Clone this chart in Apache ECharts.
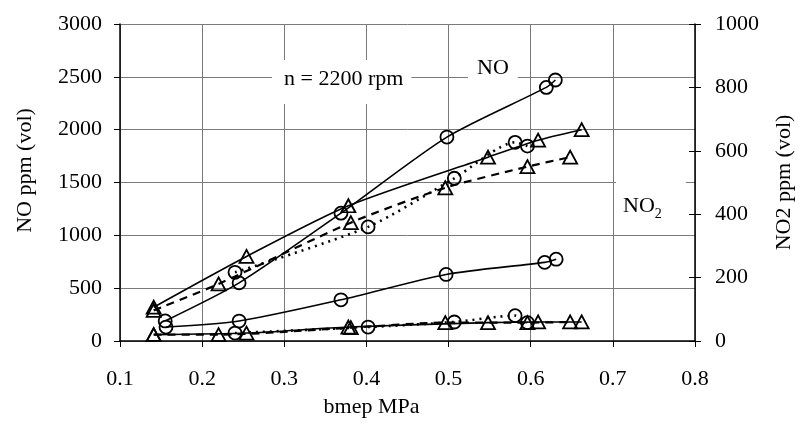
<!DOCTYPE html>
<html>
<head>
<meta charset="utf-8">
<script src="https://cdn.jsdelivr.net/npm/echarts@6/dist/echarts.min.js"></script>
<style>html,body{margin:0;padding:0;background:#fff}#c{width:803px;height:424px}</style>
</head>
<body>
<div id="c"></div>
<script>
// ---- data ----
// NO, left axis (ppm)
var noSolidCircleX = [0.155, 0.245, 0.369, 0.498, 0.619, 0.630];
var noSolidCircle  = [190, 550, 1210, 1930, 2400, 2470];
var noSolidTriX    = [0.141, 0.254, 0.378, 0.548, 0.609, 0.662];
var noSolidTri     = [320, 800, 1280, 1740, 1900, 2000];
var noDashTriX     = [0.141, 0.220, 0.381, 0.496, 0.596, 0.648];
var noDashTri      = [290, 540, 1120, 1450, 1650, 1740];
var noDotCircleX   = [0.240, 0.402, 0.507, 0.581, 0.596];
var noDotCircle    = [650, 1080, 1540, 1880, 1845];
// NO2, right axis (ppm)
var no2SolidCircleX = [0.156, 0.245, 0.369, 0.497, 0.617, 0.631];
var no2SolidCircle  = [44, 63, 130, 210, 248, 258];
var no2SolidTriX    = [0.141, 0.254, 0.378, 0.548, 0.609, 0.662];
var no2SolidTri     = [20, 25, 44, 58, 60, 60];
var no2DashTriX     = [0.141, 0.220, 0.381, 0.496, 0.596, 0.648];
var no2DashTri      = [20, 20, 42, 58, 58, 60];
var no2DotCircleX   = [0.240, 0.402, 0.507, 0.581, 0.596];
var no2DotCircle    = [25, 44, 60, 80, 58];

var xTicks = [0.1, 0.2, 0.3, 0.4, 0.5, 0.6, 0.7, 0.8];
var leftTicks = [0, 500, 1000, 1500, 2000, 2500, 3000];
var rightTicks = [0, 200, 400, 600, 800, 1000];

function pairs(xs, ys) { return xs.map(function (x, i) { return [x, ys[i]]; }); }

var FONT = 'Liberation Serif';
var FS = 22;
var chart = echarts.init(document.getElementById('c'), null, {renderer: 'canvas'});

function mk(name, xs, ys, yAxisIndex, symbol, lineType, width) {
  return {
    name: name, type: 'line', yAxisIndex: yAxisIndex,
    data: pairs(xs, ys),
    smooth: 0.25,
    symbol: symbol,
    symbolSize: symbol === 'triangle' ? [14, 13] : 13,
    showAllSymbol: true,
    lineStyle: {color: '#000', width: width, type: lineType},
    itemStyle: {color: 'rgba(0,0,0,0)', borderColor: '#000', borderWidth: 1.8},
    emphasis: {disabled: true},
    z: 3
  };
}

function plain(v) { return String(v); }

var option = {
  animation: false,
  grid: {left: 120, right: 105, top: 24, bottom: 83},
  xAxis: {
    type: 'value', min: xTicks[0], max: xTicks[xTicks.length - 1], interval: 0.1,
    name: 'bmep MPa', nameLocation: 'middle', nameGap: 55,
    nameTextStyle: {fontFamily: FONT, fontSize: FS, color: '#000', padding: [0, 72, 0, 0]},
    axisLine: {show: true, onZero: false, lineStyle: {color: '#000', width: 1.5}},
    axisTick: {show: true, length: 6, lineStyle: {color: '#000'}},
    axisLabel: {fontFamily: FONT, fontSize: FS, color: '#000', margin: 27,
      formatter: function (v) { return (Math.round(v * 10) / 10).toFixed(1); }},
    splitLine: {show: true, lineStyle: {color: '#7a7a7a', width: 1}}
  },
  yAxis: [
    {
      type: 'value', min: leftTicks[0], max: leftTicks[leftTicks.length - 1], interval: 500,
      position: 'left',
      name: 'NO ppm (vol)', nameLocation: 'middle', nameGap: 84, nameRotate: 90,
      nameTextStyle: {fontFamily: FONT, fontSize: FS, color: '#000', padding: [0, 0, 0, 24]},
      axisLine: {show: true, lineStyle: {color: '#000', width: 1.5}},
      axisTick: {show: true, length: 6, lineStyle: {color: '#000'}},
      axisLabel: {fontFamily: FONT, fontSize: FS, color: '#000', margin: 18, formatter: plain},
      splitLine: {show: true, lineStyle: {color: '#7a7a7a', width: 1}}
    },
    {
      type: 'value', min: rightTicks[0], max: rightTicks[rightTicks.length - 1], interval: 200,
      position: 'right',
      name: 'NO2 ppm (vol)', nameLocation: 'middle', nameGap: 78, nameRotate: 90,
      nameTextStyle: {fontFamily: FONT, fontSize: FS, color: '#000'},
      axisLine: {show: true, lineStyle: {color: '#000', width: 1.5}},
      axisTick: {show: true, length: 6, lineStyle: {color: '#000'}},
      axisLabel: {fontFamily: FONT, fontSize: FS, color: '#000', margin: 20, formatter: plain},
      splitLine: {show: false}
    },
    {
      type: 'value', min: rightTicks[0], max: rightTicks[rightTicks.length - 1], interval: 200,
      position: 'right',
      axisLine: {show: false},
      axisTick: {show: true, inside: true, length: 6, lineStyle: {color: '#000'}},
      axisLabel: {show: false},
      splitLine: {show: false}
    }
  ],
  graphic: [
    {type: 'text', x: 272, y: 60, z: 10,
      style: {text: 'n = 2200 rpm', font: FS + 'px "' + FONT + '"', fill: '#000',
        backgroundColor: '#fff', padding: [8, 8, 14, 12]}},
    {type: 'text', x: 468, y: 53, z: 10,
      style: {text: 'NO', font: FS + 'px "' + FONT + '"', fill: '#000',
        backgroundColor: '#fff', padding: [4, 9, 6, 9]}},
    {type: 'text', x: 616, y: 181, z: 10,
      style: {text: '{n|NO}{s|2}', fill: '#000', backgroundColor: '#fff', padding: [9, 24, 8, 7],
        rich: {
          n: {fontFamily: FONT, fontSize: FS, lineHeight: 27, verticalAlign: 'bottom'},
          s: {fontFamily: FONT, fontSize: 14, lineHeight: 27, verticalAlign: 'bottom', padding: [0, 0, -4, 0]}
        }}}
  ],
  series: [
    mk('NO solid circles', noSolidCircleX, noSolidCircle, 0, 'circle', 'solid', 1.6),
    mk('NO solid triangles', noSolidTriX, noSolidTri, 0, 'triangle', 'solid', 1.6),
    mk('NO dashed triangles', noDashTriX, noDashTri, 0, 'triangle', [8, 6], 2.2),
    mk('NO dotted circles', noDotCircleX, noDotCircle, 0, 'circle', [2, 5], 2.6),
    mk('NO2 solid circles', no2SolidCircleX, no2SolidCircle, 1, 'circle', 'solid', 1.6),
    mk('NO2 solid triangles', no2SolidTriX, no2SolidTri, 1, 'triangle', 'solid', 1.6),
    mk('NO2 dashed triangles', no2DashTriX, no2DashTri, 1, 'triangle', [8, 6], 2.2),
    mk('NO2 dotted circles', no2DotCircleX, no2DotCircle, 1, 'circle', [2, 5], 2.6)
  ]
};
chart.setOption(option);
</script>
</body>
</html>
